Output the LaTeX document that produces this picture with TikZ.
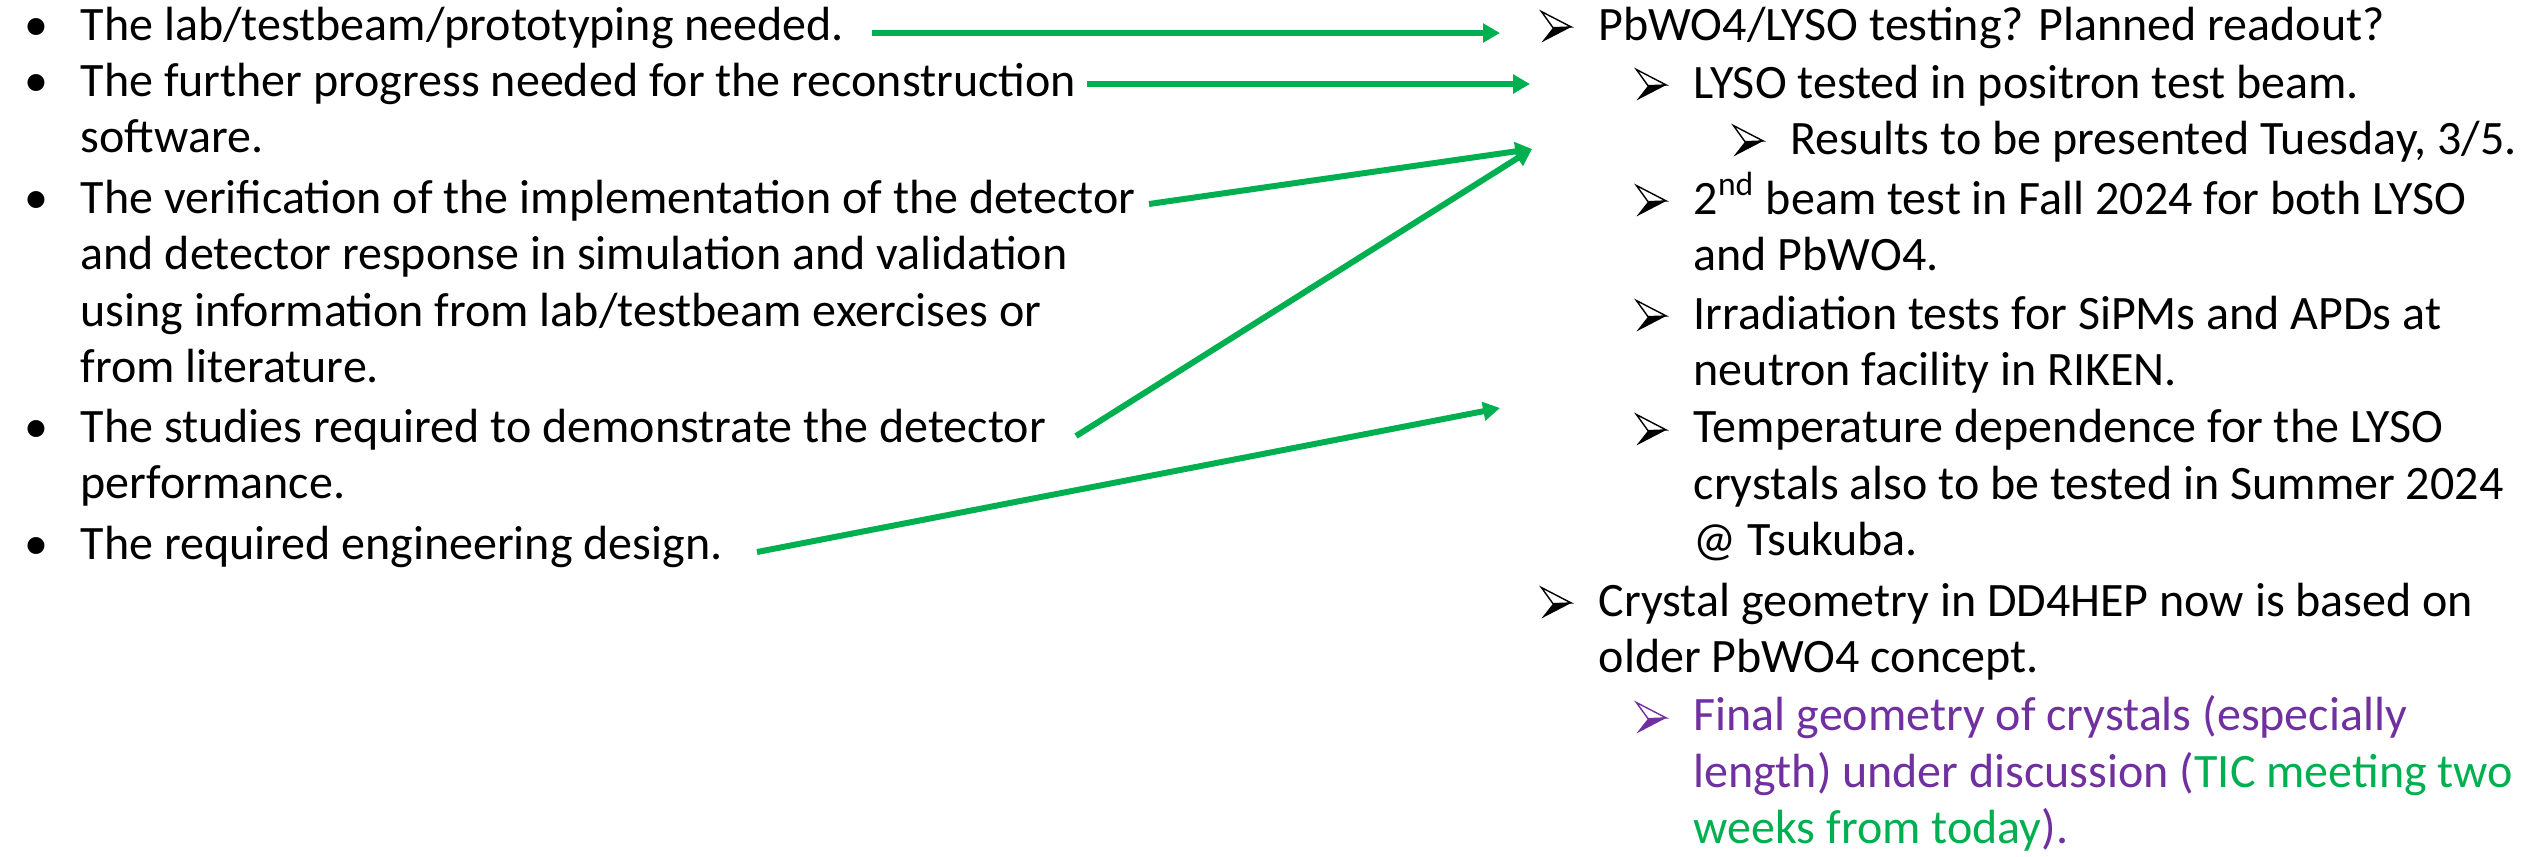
\documentclass[tikz,border=0pt]{standalone}
\usepackage{fontspec}
\setmainfont{Carlito}
\usetikzlibrary{arrows.meta}

\definecolor{arrgreen}{HTML}{00B050}
\definecolor{notepurple}{HTML}{7030A0}

% bullet and arrowhead marks hung left of the text
\newcommand\bul{\llap{\makebox[16.5pt][l]{\hspace{0.5pt}\textbullet}}}
\newcommand\mrk{\llap{\makebox[16.5pt][l]{\tikz[x=1pt,y=1pt,baseline=0.7pt,line join=miter]{%
  \fill (3.3,4.2) -- (8.5,4.4) -- (0,0) -- cycle;
  \draw[line width=0.4pt,fill=white] (0,8.8) -- (8.5,4.4) -- (3.3,4.2) -- cycle;}}}}

\begin{document}
\begin{tikzpicture}[x=0.01cm,y=-0.01cm,
    item/.style={anchor=base west,inner sep=0pt,align=left,font=\fontsize{13.65}{15.93}\selectfont},
    link/.style={draw=arrgreen,line width=1.7pt,-{Triangle[length=4.8pt,width=5.2pt]}}
  ]
  \useasboundingbox (0,0) rectangle (2534,856);

  % left: open points (placed at the baseline of the last line)
  \node[item] (lab) at (80,40) {\bul The lab/testbeam/prototyping needed.};
  \node[item] (reco) at (80,152) {\bul The further progress needed for the reconstruction\\software.};
  \node[item] (verif) at (80,382) {\bul The verification of the implementation of the detector\\and detector response in simulation and validation\\using information from lab/testbeam exercises or\\from literature.};
  \node[item] (perf) at (80,498) {\bul The studies required to demonstrate the detector\\performance.};
  \node[item] (eng) at (80,559) {\bul The required engineering design.};

  % right: status
  \node[item] (test) at (1598,40) {\mrk PbWO4/LYSO testing? Planned readout?};
  \node[item] (lyso) at (1693,98) {\mrk LYSO tested in positron test beam.};
  \node[item] (res) at (1790,154) {\mrk Results to be presented Tuesday, 3/5.};
  \node[item] (beam) at (1693,270) {\mrk 2\textsuperscript{nd} beam test in Fall 2024 for both LYSO\\and PbWO4.};
  \node[item] (irr) at (1693,385) {\mrk Irradiation tests for SiPMs and APDs at\\neutron facility in RIKEN.};
  \node[item] (temp) at (1693,555) {\mrk Temperature dependence for the LYSO\\crystals also to be tested in Summer 2024\\@ Tsukuba.};
  \node[item] (geom) at (1598,672) {\mrk Crystal geometry in DD4HEP now is based on\\older PbWO4 concept.};
  \node[item,text=notepurple] (final) at (1693,843) {\mrk Final geometry of crystals (especially\\length) under discussion ({\color{arrgreen}TIC meeting two}\\{\color{arrgreen}weeks from today}).};

  % arrow ends
  \coordinate (t1) at (872,33);
  \coordinate (h1) at (1500,33);
  \coordinate (t2) at (1087,84);
  \coordinate (h2) at (1530,84);
  \coordinate (t3) at (1149,204);
  \coordinate (h3) at (1532,149);
  \coordinate (t4) at (1076,436);
  \coordinate (t5) at (757,552);
  \coordinate (h5) at (1500,408);

  \draw[link] (t1) -- (h1);
  \draw[link] (t2) -- (h2);
  \draw[link] (t3) -- (h3);
  \draw[link] (t4) -- (h3);
  \draw[link] (t5) -- (h5);
\end{tikzpicture}
\end{document}
